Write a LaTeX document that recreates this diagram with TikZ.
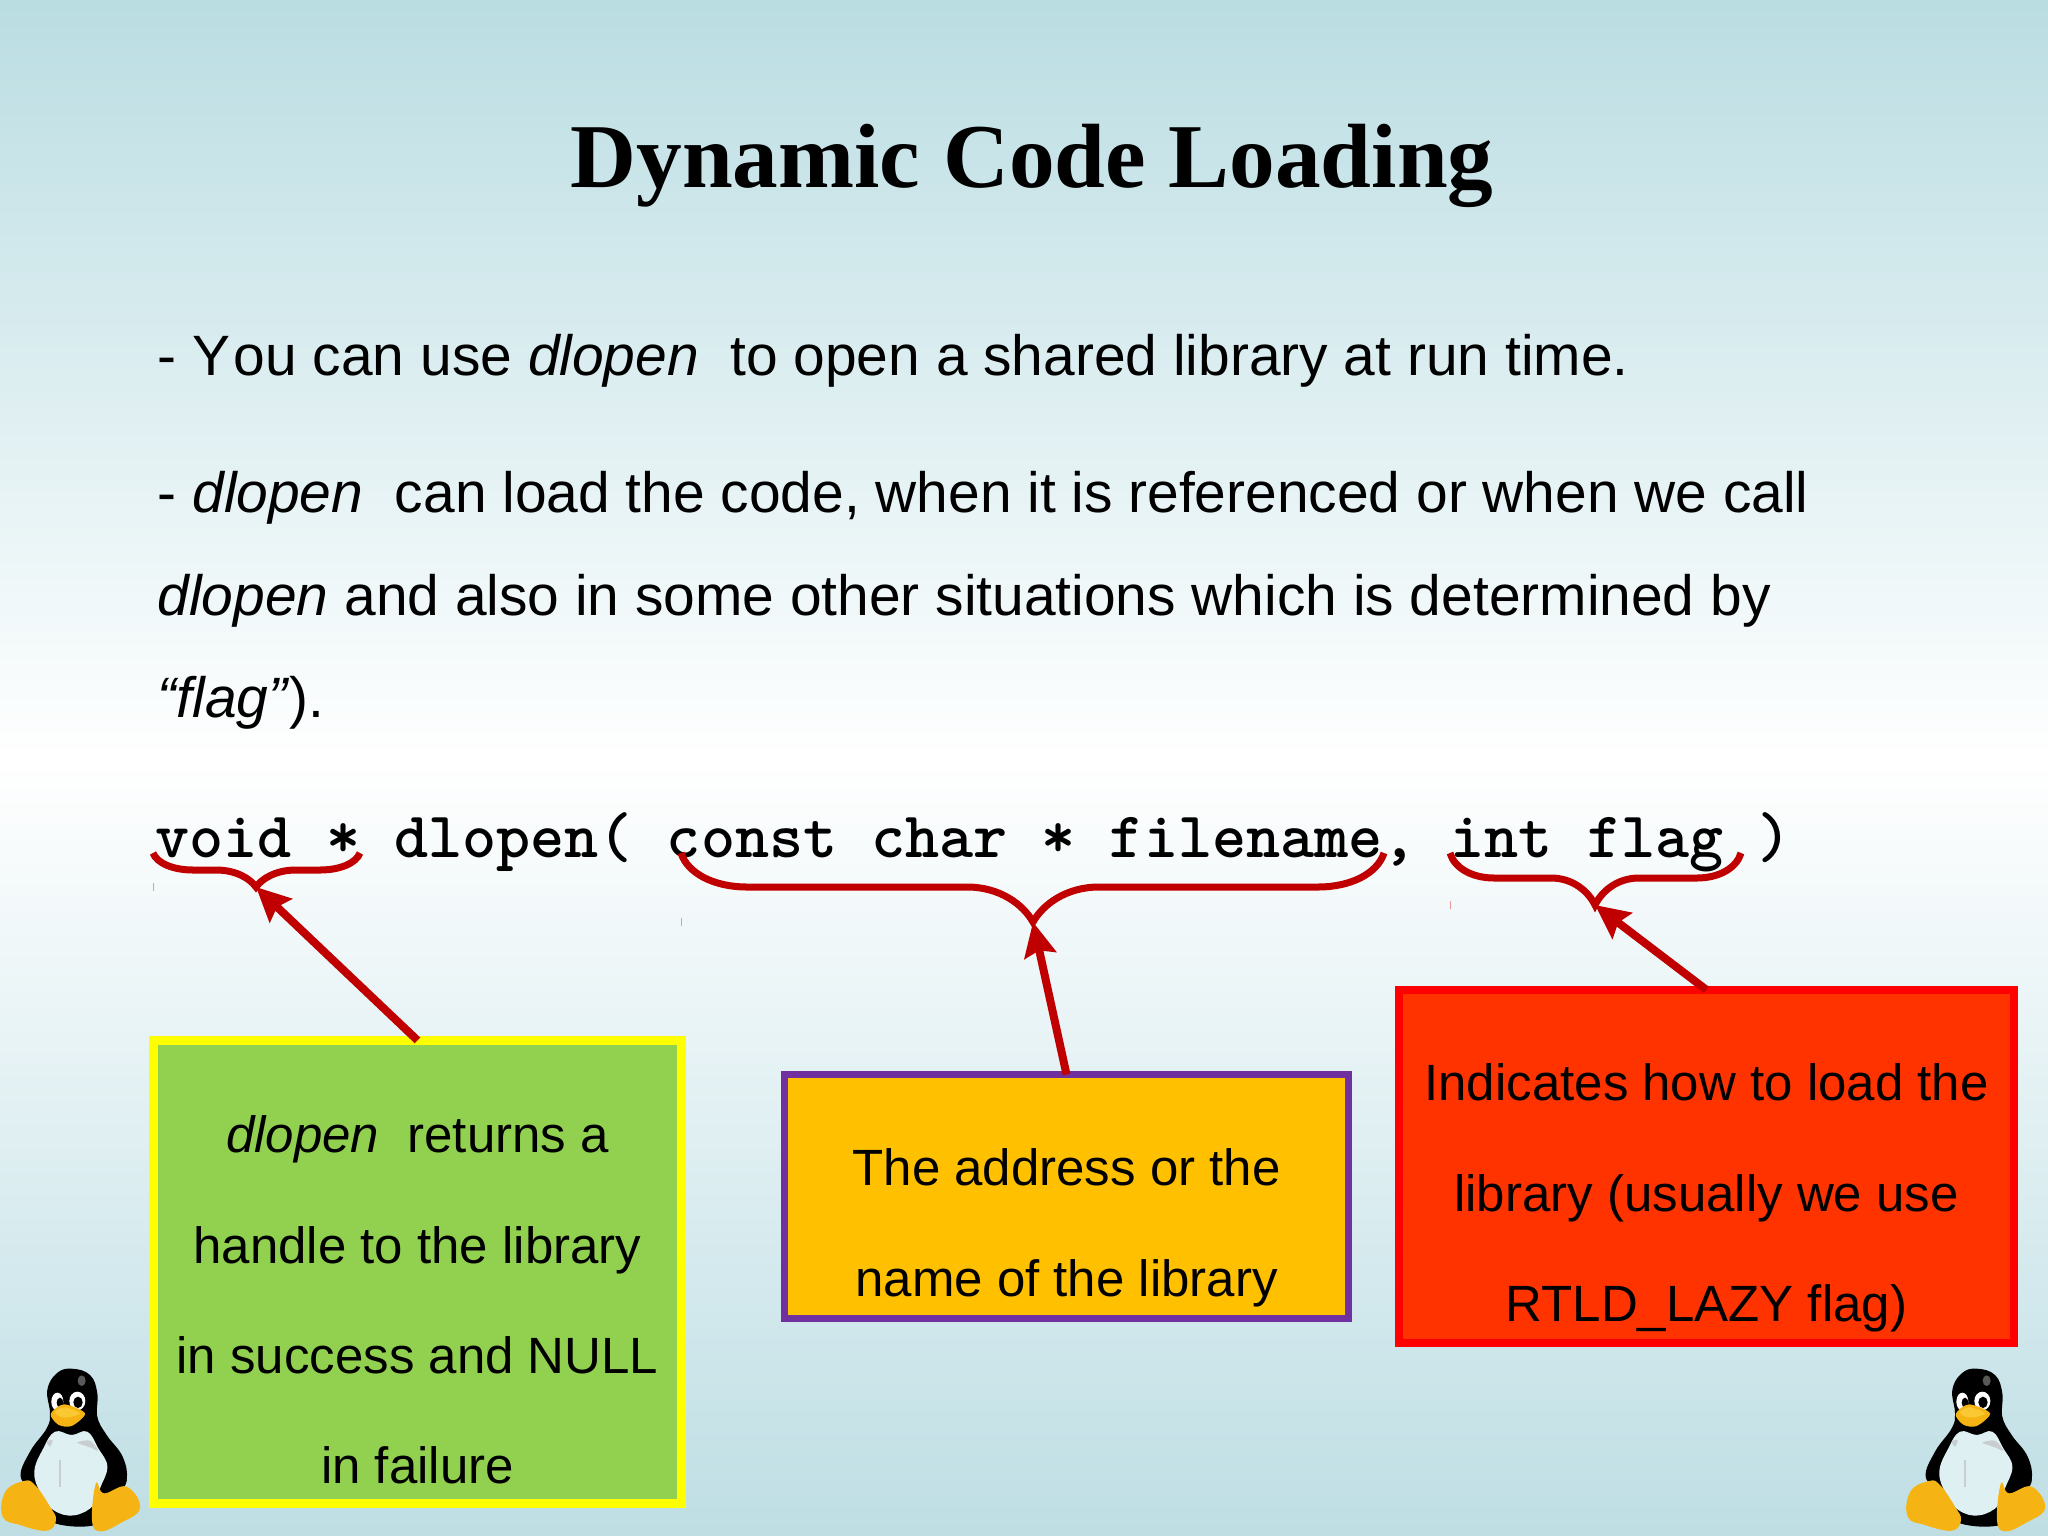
\documentclass[tikz,border=0pt]{standalone}
\usepackage{fontspec}
\setmainfont{Liberation Sans}
\newfontfamily\titlefont{Liberation Serif}
\usetikzlibrary{arrows.meta}
\definecolor{bgtop}{RGB}{186,221,226}
\definecolor{bgbot}{RGB}{190,222,228}
\definecolor{bracered}{RGB}{192,0,0}
\definecolor{retgreen}{RGB}{146,208,80}
\definecolor{retyellow}{RGB}{255,255,0}
\definecolor{addrgold}{RGB}{255,192,0}
\definecolor{addrpurple}{RGB}{112,48,160}
\definecolor{flagred}{RGB}{255,51,0}
\definecolor{flagedge}{RGB}{255,0,0}
\definecolor{tuxgold}{RGB}{245,180,20}
\definecolor{tuxbeak}{RGB}{250,200,50}
\definecolor{tuxbelly}{RGB}{222,240,242}
\definecolor{tuxshade}{RGB}{200,205,210}
\tikzset{
  titletext/.style={anchor=base,inner sep=0pt,font=\titlefont\bfseries\fontsize{25.95}{30}\selectfont},
  bodytext/.style={anchor=base west,inner sep=0pt,font=\fontsize{16.18}{29.2}\selectfont},
  codetext/.style={anchor=base west,inner sep=0pt,font=\ttfamily\bfseries\fontsize{18.46}{22}\selectfont},
  boxtext/.style={inner sep=0pt,align=center,font=\fontsize{14.5}{31.4}\selectfont},
  box/.style={draw,outer sep=0pt,inner sep=0pt},
  curly/.style={draw=bracered,line width=.07cm},
  pointer/.style={draw=bracered,line width=.08cm,-{Stealth[length=.34cm,width=.32cm,inset=.05cm]}},
  tux/.pic={
    \begin{scope}[scale=1/3]
    \fill[black] plot[smooth cycle,tension=.7] coordinates {(215,146) (270,165) (292,220) (292,290) (320,345) (368,410) (380,480) (350,525) (300,610) (165,610) (150,560) (105,510) (62,470) (90,395) (140,325) (150,280) (142,210) (170,160)};
    \fill[tuxbelly] plot[smooth cycle,tension=.7] coordinates {(165,335) (215,345) (262,335) (295,385) (322,440) (300,505) (282,555) (222,586) (160,570) (122,520) (103,455) (130,385)};
    \fill[tuxshade] (178,420) rectangle (183,500);
    \fill[tuxshade] plot[smooth cycle] coordinates {(232,368) (270,362) (295,392) (270,382)};
    \fill[tuxshade] plot[smooth cycle] coordinates {(140,365) (158,360) (150,380)};
    \fill[black] plot[smooth cycle] coordinates {(300,370) (350,410) (380,480) (350,525) (310,505) (338,450)};
    \fill[tuxgold] plot[smooth cycle,tension=.7] coordinates {(72,483) (105,495) (150,560) (168,600) (140,632) (60,615) (8,590) (16,515)};
    \fill[tuxgold] plot[smooth cycle,tension=.7] coordinates {(288,490) (312,520) (380,500) (420,565) (360,610) (300,634) (276,600)};
    \fill[white] (172,245) ellipse[x radius=18,y radius=27];
    \fill[white] (232,243) ellipse[x radius=24,y radius=28];
    \fill[black] (180,248) ellipse[x radius=10,y radius=15];
    \fill[black] (234,247) ellipse[x radius=14,y radius=17];
    \fill[tuxgold] plot[smooth cycle] coordinates {(152,282) (192,253) (255,280) (215,318) (175,314)};
    \fill[tuxbeak] plot[smooth cycle] coordinates {(165,275) (195,262) (240,280) (205,292) (180,290)};
    \fill[black!65] (245,182) ellipse[x radius=12,y radius=16];
    \end{scope}
  }
}
\begin{document}
\begin{tikzpicture}[x=.01cm,y=-.01cm]
\useasboundingbox (0,0) rectangle (2048,1536);
\shade[top color=bgtop,bottom color=white] (0,0) rectangle (2048,760);
\shade[top color=white,bottom color=bgbot] (0,759) rectangle (2048,1536);

\node[titletext] (heading) at (1032,187) {Dynamic Code Loading};
\node[bodytext] (lineone) at (157,375) {- Y\kern.06em ou can use \textit{dlopen}\ \ to open a shared library at run time.};
\node[bodytext] (linetwo) at (157,512) {- \textit{dlopen}\ \ can load the code, when it is referenced or when we call};
\node[bodytext] (linethree) at (157,615) {\textit{dlopen} and also in some other situations which is determined by};
\node[bodytext] (linefour) at (157,717) {\textit{“flag”}).};
\node[codetext] (signature) at (155,857) {void * dlopen( const char * filename, int flag )};

% boxes
\node[box,draw=retyellow,fill=retgreen,line width=.09cm,minimum width=5.28cm,minimum height=4.63cm] (retbox) at (417.5,1272) {};
\node[boxtext] (rettext) at (417.5,1300) {\textit{dlopen}\ \ returns a\\handle to the library\\in success and NULL\\in failure};
\node[box,draw=addrpurple,fill=addrgold,line width=.07cm,minimum width=5.64cm,minimum height=2.44cm] (addrbox) at (1066.5,1196.5) {};
\node[boxtext] (addrtext) at (1066.5,1228) {The address or the\\name of the library};
\node[box,draw=flagedge,fill=flagred,line width=.08cm,minimum width=6.15cm,minimum height=3.53cm] (flagbox) at (1706.5,1166.5) {};
\node[boxtext] (flagtext) at (1706.5,1198) {Indicates how to load the\\library (usually we use\\RTLD\_LAZY flag)};

% braces under the signature
\foreach \n/\l/\m/\r/\f/\t/\w in {ret/153/256/360/870/887/40,addr/681/1033/1384/887/922/66,flag/1450/1595/1741/878/905/44} {
  \coordinate (\n tip) at (\m,\t);
  \draw[curly] (\l,853) .. controls ({\l+.1*\w},{\f-.4*(\f-853)}) and ({\l+.5*\w},\f) .. ({\l+\w},\f) -- ({\m-\w},\f)
    .. controls ({\m-.5*\w},\f) and ({\m-.15*\w},{\t-.5*(\t-\f)}) .. (\n tip)
    .. controls ({\m+.15*\w},{\t-.5*(\t-\f)}) and ({\m+.5*\w},\f) .. ({\m+\w},\f) -- ({\r-\w},\f)
    .. controls ({\r-.5*\w},\f) and ({\r-.1*\w},{\f-.4*(\f-853)}) .. (\r,853);
  \draw[bracered!40,line width=.01cm] (\l,\t-4) -- (\l,\t+4);
}
\draw[pointer] (retbox.north) -- (rettip);
\draw[pointer] (addrbox.north) -- (addrtip);
\draw[pointer] (flagbox.north) -- (flagtip);

\pic at (0,1320) {tux};
\pic at (1905,1320) {tux};
\end{tikzpicture}
\end{document}
